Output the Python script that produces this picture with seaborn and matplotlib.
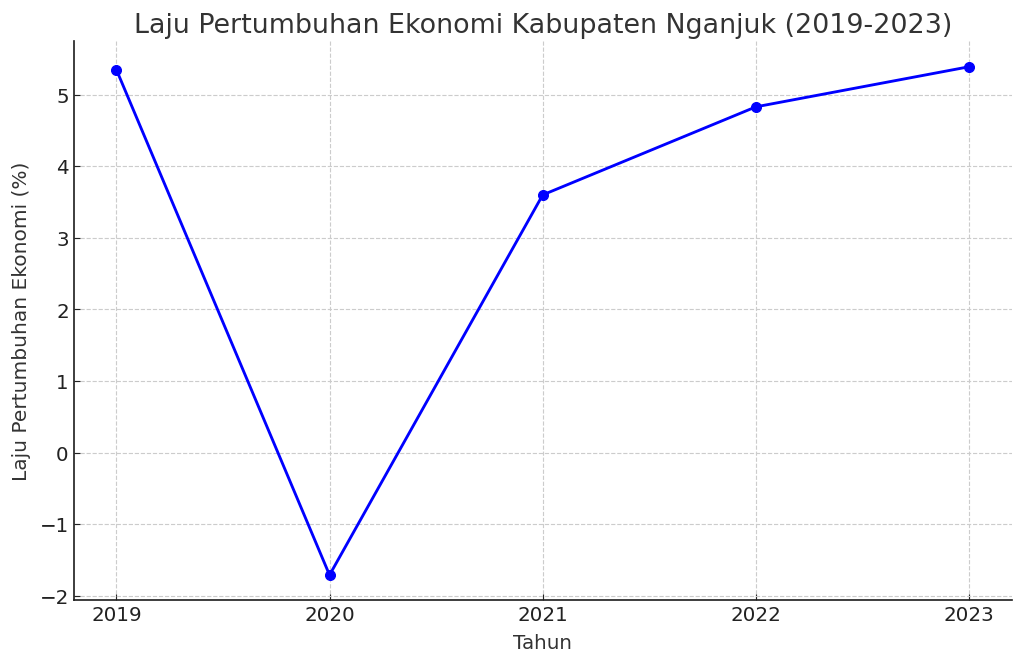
import pandas as pd
import matplotlib.pyplot as plt
import seaborn as sns

# Data
tahun = [2019, 2020, 2021, 2022, 2023]
laju = [5.35, -1.71, 3.60, 4.83, 5.39]

df = pd.DataFrame({'Tahun': tahun, 'Laju': laju})

sns.set_style('ticks')
plt.rcParams['font.family'] = ['DejaVu Sans']

fig, ax = plt.subplots(figsize=(10, 6.5), dpi=102.4)
sns.lineplot(data=df, x='Tahun', y='Laju', marker='o', color='blue',
             linewidth=2, markersize=7, markeredgecolor='blue', ax=ax)

ax.set_title('Laju Pertumbuhan Ekonomi Kabupaten Nganjuk (2019-2023)',
             fontsize=18.9, color='#333333')
ax.set_xlabel('Tahun', fontsize=14, color='#333333', labelpad=6)
ax.set_ylabel('Laju Pertumbuhan Ekonomi (%)', fontsize=14.2, color='#333333',
              labelpad=6)
ax.set_xticks(tahun)
ax.tick_params(direction='in', labelsize=14, colors='#222222', length=4)
for side in ['left', 'bottom']:
    ax.spines[side].set_color('#222222')
    ax.spines[side].set_linewidth(1.2)
ax.grid(True, linestyle='--', color='#cccccc', linewidth=0.8)
sns.despine(ax=ax)

fig.subplots_adjust(left=0.072, right=0.988, top=0.937, bottom=0.097)
fig.savefig('out.png', dpi=102.4)
